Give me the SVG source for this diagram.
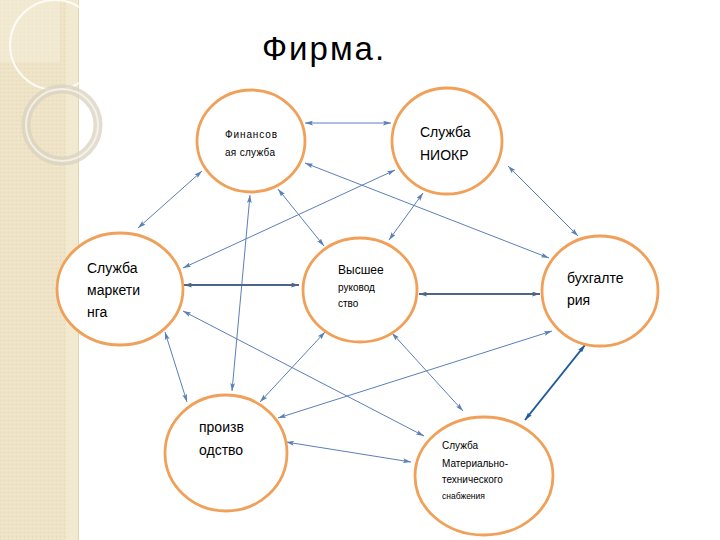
<svg xmlns="http://www.w3.org/2000/svg" width="720" height="540" viewBox="0 0 720 540">
<defs>
<pattern id="tex" width="4" height="4" patternUnits="userSpaceOnUse">
<rect width="4" height="4" fill="#EEE3C6"/>
<rect width="1" height="1" fill="#E6D9B6"/>
<rect x="2" y="2" width="1" height="1" fill="#F3EBD3"/>
</pattern>
<marker id="a" viewBox="0 0 10 6" refX="10" refY="3" markerWidth="8" markerHeight="5" markerUnits="userSpaceOnUse" orient="auto-start-reverse">
<path d="M0,0 L10,3 L0,6 L2,3 Z" fill="#5A7FB8"/>
</marker>
<marker id="ad" viewBox="0 0 10 6" refX="10" refY="3" markerWidth="8" markerHeight="5" markerUnits="userSpaceOnUse" orient="auto-start-reverse">
<path d="M0,0 L10,3 L0,6 L2,3 Z" fill="#4C6686"/>
</marker>
<marker id="ab" viewBox="0 0 10 6" refX="10" refY="3" markerWidth="8" markerHeight="5" markerUnits="userSpaceOnUse" orient="auto-start-reverse">
<path d="M0,0 L10,3 L0,6 L2,3 Z" fill="#1E5A9C"/>
</marker>
</defs>
<style>
.n ellipse{fill:#FFFFFF;stroke:#F0A058;stroke-width:2.8}
.t{font-family:"Liberation Sans",Arial,sans-serif;fill:#000}
.c line{stroke:#5A7FB8;stroke-width:1;marker-start:url(#a);marker-end:url(#a)}
.c line.d{stroke:#4C6686;stroke-width:2;marker-start:url(#ad);marker-end:url(#ad)}
.c line.b{stroke:#1E5A9C;stroke-width:2;marker-start:url(#ab);marker-end:url(#ab)}
</style>
<rect width="720" height="540" fill="#FFFFFF"/>
<g id="strip">
<rect x="0" y="0" width="79" height="540" fill="url(#tex)"/>
<rect x="66" y="0" width="12" height="540" fill="#F3EBD6" opacity="0.7"/>
<line x1="78.5" y1="0" x2="78.5" y2="540" stroke="#E2D5B0" stroke-width="1"/>
<rect x="0" y="0" width="60" height="62" fill="#F4EDD9" opacity="0.6"/>
<circle cx="55" cy="45" r="45" fill="none" stroke="#FFFFFF" stroke-width="2" opacity="0.8"/>
<circle cx="62" cy="125" r="36" fill="none" stroke="#D9D2BF" stroke-width="9" opacity="0.75"/>
<circle cx="62" cy="125" r="36" fill="none" stroke="#FFFFFF" stroke-width="2" opacity="0.6"/>
</g>
<text class="t" x="262" y="60" font-size="33" letter-spacing="2">Фирма.</text>
<g class="c" id="connectors">
<line x1="305" y1="123" x2="391" y2="123"/>
<line x1="202" y1="171" x2="138" y2="228"/>
<line x1="305" y1="163" x2="549" y2="258"/>
<line x1="278" y1="189" x2="324" y2="246"/>
<line x1="250" y1="195" x2="232" y2="391"/>
<line x1="395" y1="170" x2="183" y2="268"/>
<line x1="423" y1="193" x2="389" y2="240"/>
<line x1="508" y1="166" x2="578" y2="236"/>
<line class="d" x1="184" y1="285" x2="299" y2="285"/>
<line class="d" x1="419" y1="294" x2="540" y2="294"/>
<line x1="165" y1="332" x2="187" y2="402"/>
<line x1="183" y1="311" x2="424" y2="436"/>
<line x1="325" y1="332" x2="260" y2="402"/>
<line x1="552" y1="331" x2="278" y2="418"/>
<line x1="392" y1="333" x2="463" y2="411"/>
<line x1="286" y1="442" x2="411" y2="462"/>
<line class="b" x1="585" y1="345" x2="525" y2="420"/>
</g>
<g class="n" id="finance">
<ellipse cx="251" cy="141" rx="54" ry="51"/>
<text class="t" x="225" y="138" font-size="10" letter-spacing="0.9">Финансов</text>
<text class="t" x="225" y="156" font-size="10" letter-spacing="0.3">ая служба</text>
</g>
<g class="n" id="niokr">
<ellipse cx="447" cy="141" rx="55" ry="53"/>
<text class="t" x="420" y="137" font-size="14">Служба</text>
<text class="t" x="420" y="160" font-size="14">НИОКР</text>
</g>
<g class="n" id="marketing">
<ellipse cx="120" cy="289" rx="63" ry="56"/>
<text class="t" x="87" y="273" font-size="14">Служба</text>
<text class="t" x="87" y="295" font-size="14">маркети</text>
<text class="t" x="87" y="317" font-size="14">нга</text>
</g>
<g class="n" id="top-management">
<ellipse cx="360" cy="290" rx="57" ry="52"/>
<text class="t" x="338" y="274" font-size="12">Высшее</text>
<text class="t" x="338" y="291" font-size="10">руковод</text>
<text class="t" x="338" y="307" font-size="10">ство</text>
</g>
<g class="n" id="accounting">
<ellipse cx="600" cy="291" rx="58" ry="55"/>
<text class="t" x="567" y="283" font-size="14">бухгалте</text>
<text class="t" x="567" y="305" font-size="14">рия</text>
</g>
<g class="n" id="production">
<ellipse cx="226" cy="453" rx="61" ry="58"/>
<text class="t" x="199" y="432" font-size="14">произв</text>
<text class="t" x="199" y="455" font-size="14">одство</text>
</g>
<g class="n" id="supply">
<ellipse cx="484" cy="476" rx="69" ry="59"/>
<text class="t" x="442" y="449" font-size="10">Служба</text>
<text class="t" x="442" y="467" font-size="10">Материально-</text>
<text class="t" x="442" y="483" font-size="10">технического</text>
<text class="t" x="442" y="499" font-size="8.5">снабжения</text>
</g>
</svg>
